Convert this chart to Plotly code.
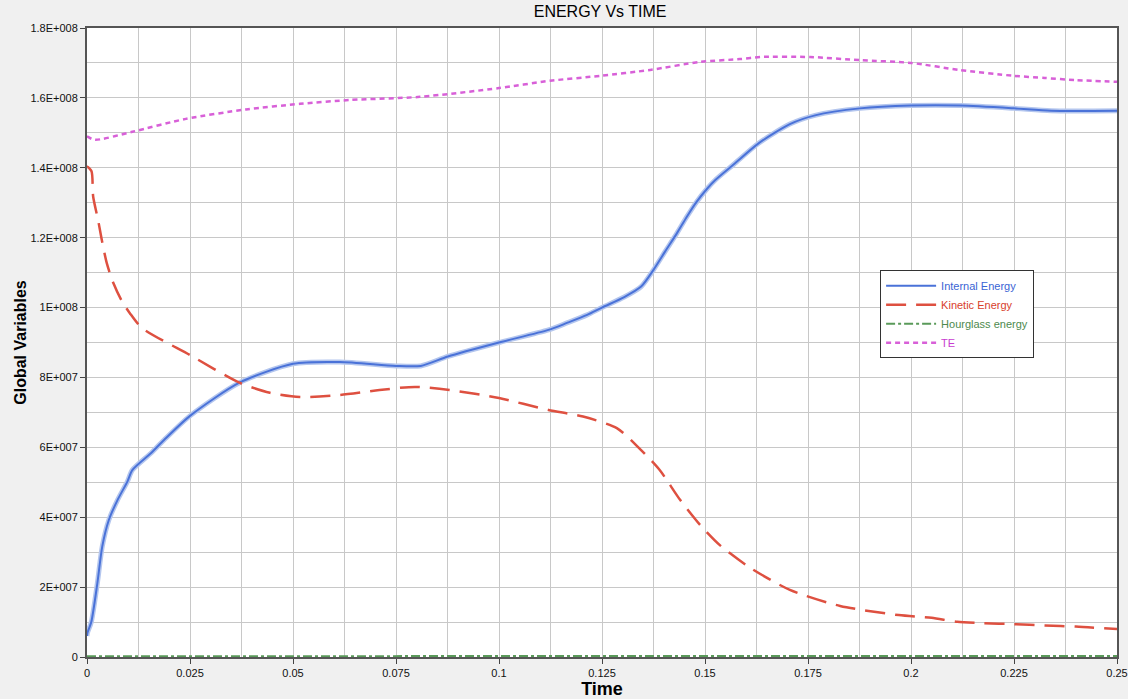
import plotly.graph_objects as go

# Internal Energy
ie_t = [0.0, 0.0001, 0.00104, 0.0025, 0.0037, 0.0053, 0.0074, 0.0098, 0.011, 0.0155, 0.0187,
        0.025, 0.037, 0.05, 0.0614, 0.075, 0.081, 0.0876, 0.1, 0.112, 0.1165, 0.1214, 0.125,
        0.1304, 0.1345, 0.1375, 0.1403, 0.1432, 0.1456, 0.148, 0.1505, 0.1525, 0.157, 0.163,
        0.1706, 0.1767, 0.1876, 0.2, 0.212, 0.225, 0.234, 0.25]
ie_v = [6.0e6, 6.9e6, 1.0e7, 2.1e7, 3.16e7, 3.92e7, 4.49e7, 5.02e7, 5.35e7, 5.83e7, 6.21e7,
        6.9e7, 7.85e7, 8.39e7, 8.44e7, 8.33e7, 8.33e7, 8.6e7, 9.0e7, 9.36e7, 9.56e7, 9.79e7, 1.0e8,
        1.03e8, 1.06e8, 1.108e8, 1.16e8, 1.213e8, 1.26e8, 1.303e8, 1.34e8, 1.365e8, 1.41e8, 1.47e8,
        1.525e8, 1.55e8, 1.57e8, 1.578e8, 1.578e8, 1.57e8, 1.563e8, 1.563e8]

# Kinetic Energy
ke_t = [0.0, 0.0001, 0.0011, 0.0015, 0.0027, 0.0036, 0.0048, 0.0064, 0.0084, 0.0104, 0.0133,
        0.025, 0.037, 0.0444, 0.0517, 0.0614, 0.071, 0.0796, 0.088, 0.1, 0.112, 0.1204, 0.1286,
        0.134, 0.139, 0.144, 0.1488, 0.1536, 0.161, 0.1706, 0.1828, 0.197, 0.205, 0.2112, 0.2175,
        0.225, 0.2325, 0.24, 0.25]
ke_v = [1.40e8, 1.403e8, 1.39e8, 1.317e8, 1.25e8, 1.193e8, 1.127e8, 1.07e8, 1.02e8, 9.84e7, 9.42e7,
        8.64e7, 7.85e7, 7.56e7, 7.44e7, 7.5e7, 7.64e7, 7.73e7, 7.64e7, 7.41e7, 7.07e7, 6.88e7, 6.55e7,
        5.98e7, 5.35e7, 4.49e7, 3.78e7, 3.2e7, 2.55e7, 1.92e7, 1.46e7, 1.2e7, 1.12e7, 1.01e7, 9.7e6,
        9.4e6, 9.0e6, 8.7e6, 8.0e6]

# Hourglass energy
hg_t = [0.0, 0.05, 0.1, 0.15, 0.2, 0.25]
hg_v = [2.0e5, 3.0e5, 3.0e5, 3.0e5, 3.0e5, 3.0e5]

# TE
te_t = [0.0, 0.0019, 0.011, 0.024, 0.0386, 0.0517, 0.0638, 0.0808, 0.1, 0.1124, 0.1245, 0.1367,
        0.1488, 0.1585, 0.1634, 0.1755, 0.1876, 0.2, 0.2117, 0.225, 0.2325, 0.2398, 0.25]
te_v = [1.49e8, 1.48e8, 1.503e8, 1.54e8, 1.567e8, 1.583e8, 1.594e8, 1.603e8, 1.628e8, 1.649e8,
        1.663e8, 1.68e8, 1.703e8, 1.711e8, 1.717e8, 1.717e8, 1.708e8, 1.70e8, 1.68e8, 1.663e8,
        1.657e8, 1.651e8, 1.646e8]

x_ticks = [0, 0.025, 0.05, 0.075, 0.1, 0.125, 0.15, 0.175, 0.2, 0.225, 0.25]
x_labels = ["0", "0.025", "0.05", "0.075", "0.1", "0.125", "0.15", "0.175", "0.2", "0.225", "0.25"]
y_ticks = [0, 2e7, 4e7, 6e7, 8e7, 1e8, 1.2e8, 1.4e8, 1.6e8, 1.8e8]
y_labels = ["0", "2E+007", "4E+007", "6E+007", "8E+007", "1E+008", "1.2E+008", "1.4E+008",
            "1.6E+008", "1.8E+008"]

fig = go.Figure()
fig.add_trace(go.Scatter(x=ie_t, y=ie_v, mode="lines",
                         line=dict(color="#b4c6ee", width=5, shape="spline", smoothing=0.7),
                         showlegend=False, hoverinfo="skip"))
fig.add_trace(go.Scatter(x=ie_t, y=ie_v, mode="lines",
                         name="<span style='color:#3a64d4'>Internal Energy</span>",
                         line=dict(color="#4a72d8", width=2, shape="spline", smoothing=0.7)))
fig.add_trace(go.Scatter(x=ke_t, y=ke_v, mode="lines",
                         name="<span style='color:#d8402c'>Kinetic Energy</span>",
                         line=dict(color="#de5040", width=2.5, dash="20px,10px",
                                   shape="spline", smoothing=0.7)))
fig.add_trace(go.Scatter(x=hg_t, y=hg_v, mode="lines",
                         name="<span style='color:#4e8a4e'>Hourglass energy</span>",
                         line=dict(color="#5a9a5a", width=2, dash="dashdot")))
fig.add_trace(go.Scatter(x=te_t, y=te_v, mode="lines",
                         name="<span style='color:#c83cd0'>TE</span>",
                         line=dict(color="#d860d8", width=2.5, dash="5px,4px",
                                   shape="spline", smoothing=0.7)))

fig.update_layout(
    width=1128, height=699,
    margin=dict(l=87, r=11, t=28, b=42),
    paper_bgcolor="#f0f0f0", plot_bgcolor="#ffffff",
    font=dict(family="Liberation Sans, Arial, sans-serif", size=11, color="#111111"),
    title=dict(text="ENERGY Vs TIME", x=0.532, xanchor="center", y=0.984, yanchor="middle",
               font=dict(size=16, color="#000000")),
    legend=dict(x=0.77, y=0.615, xanchor="left", yanchor="top",
                bgcolor="#ffffff", bordercolor="#333333", borderwidth=1,
                font=dict(size=11), tracegroupgap=0, itemwidth=50),
    showlegend=True,
)
fig.update_xaxes(
    range=[0, 0.25], tickvals=x_ticks, ticktext=x_labels, automargin=False,
    showgrid=True, gridcolor="#c8c8c8", gridwidth=1,
    minor=dict(dtick=0.0125, tick0=0, showgrid=True, gridcolor="#c8c8c8", gridwidth=1),
    ticks="outside", ticklen=5, tickcolor="#444",
    showline=True, linecolor="#555555", linewidth=2, mirror=True, zeroline=False,
    title=dict(text="<b>Time</b>", font=dict(size=18, color="#000"), standoff=0),
)
fig.update_yaxes(
    range=[0, 1.8e8], tickvals=y_ticks, ticktext=y_labels, automargin=False,
    showgrid=True, gridcolor="#c8c8c8", gridwidth=1,
    minor=dict(dtick=1e7, tick0=0, showgrid=True, gridcolor="#c8c8c8", gridwidth=1),
    ticks="outside", ticklen=5, tickcolor="#444",
    showline=True, linecolor="#555555", linewidth=2, mirror=True, zeroline=False,
    title=dict(text="<b>Global Variables</b>", font=dict(size=16, color="#000"), standoff=0),
)

fig.write_html("out.html", config={"displayModeBar": False},
               post_script="document.body.style.margin='0px';")
